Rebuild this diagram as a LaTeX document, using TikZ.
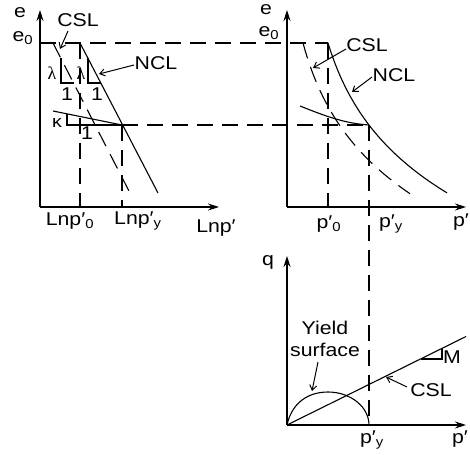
\documentclass[tikz,border=0pt]{standalone}
\usepackage{fontspec}
\setmainfont{Liberation Sans}
\newfontfamily\greekf{Liberation Serif}
\usetikzlibrary{arrows.meta}
\begin{document}
\begin{tikzpicture}[x=1pt,y=-1pt,
  ln/.style={line width=1.1pt},
  dsh/.style={line width=1.1pt, dash pattern=on 16pt off 9pt},
  axis/.style={line width=1.1pt, -{Stealth[length=11pt,width=7pt]}},
  lbl/.style={font=\fontsize{18.5}{21}\selectfont, inner sep=0pt, xscale=1.15, transform shape},
  grk/.style={font=\greekf\fontsize{18}{20}\selectfont, inner sep=0pt},
  ptr/.style={line width=1pt, -{Straight Barb[length=5pt,width=7pt]}}]
\useasboundingbox (0,0) rectangle (470,454);
% ---------- left plot: e - ln p'
\coordinate (O1) at (40,207);
\coordinate (Y1) at (40,10);
\coordinate (X1) at (219,207);
\draw[axis] (O1) -- (Y1);
\draw[axis] (O1) -- (X1);
\coordinate (T0) at (40,43);
\coordinate (NCLa) at (80,43);
\coordinate (NCLb) at (158,193);
\coordinate (CSLa) at (53,43);
\coordinate (CSLb) at (130,193);
\coordinate (P0a) at (80,207);
\coordinate (Yl) at (122,125);
\coordinate (Yla) at (122,207);
\coordinate (Ka) at (53,111);
\coordinate (Kt) at (67,114);
\coordinate (Kb) at (67,125);
\coordinate (Tend) at (328,43);
\coordinate (Hend) at (369,125);
\draw[dsh] (T0) -- (Tend);
\draw[ln] (NCLa) -- (NCLb);
\draw[dsh] (CSLa) -- (CSLb);
\draw[dsh] (NCLa) -- (P0a);
\draw[dsh] (Yl) -- (Yla);
\draw[dsh] (Yl) -- (Hend);
\draw[ln] (Ka) -- (Yl);
\draw[ln] (Kt) -- (Kb) -- (Yl);
% lambda triangles
\coordinate (L1a) at (61,58);
\coordinate (L1b) at (61,83);
\coordinate (L1c) at (73.5,83);
\coordinate (L2a) at (88,58);
\coordinate (L2b) at (88,83);
\coordinate (L2c) at (101,83);
\draw[ln] (L1a) -- (L1b) -- (L1c);
\draw[ln] (L2a) -- (L2b) -- (L2c);
\node[grk] (lam1) at (52,73) {λ};
\node[grk] (lam2) at (81,73) {λ};
\node[lbl] (one1) at (67,94) {1};
\node[lbl] (one2) at (97,94) {1};
\node[lbl, font=\fontsize{17}{19}\selectfont] (kap) at (57,123) {κ};
\node[lbl] (one3) at (87,133) {1};
\node[lbl] (eL) at (20,13) {e};
\node[lbl] (e0L) at (23,38) {e\textsubscript{0}};
\node[lbl] (cslL) at (78,20) {CSL};
\coordinate (cslLs) at (68,31);
\coordinate (cslLt) at (60,49);
\draw[ptr] (cslLs) -- (cslLt);
\node[lbl] (nclL) at (156,63) {NCL};
\coordinate (nclLs) at (134,65);
\coordinate (nclLt) at (99,74);
\draw[ptr] (nclLs) -- (nclLt);
\node[lbl] (lnp0) at (70,221) {Lnp′\textsubscript{0}};
\node[lbl] (lnpy) at (138,221) {Lnp′\textsubscript{y}};
\node[lbl] (lnp) at (216,228) {Lnp′};
% ---------- right plot: e - p'
\coordinate (O2) at (287,207);
\coordinate (Y2) at (287,10);
\coordinate (X2) at (466,207);
\draw[axis] (O2) -- (Y2);
\draw[axis] (O2) -- (X2);
\coordinate (P0b) at (328,207);
\coordinate (Yr) at (369,125);
\coordinate (Ylow) at (369,425);
\draw[ln] plot[domain=328:447, samples=50] (\x, {43+88.8*ln((\x-301)/27)});
\draw[dsh] plot[domain=303:410, samples=50] (\x, {43+88.8*ln((\x-279)/24)});
\draw[dsh] (Tend) -- (P0b);
\draw[dsh] (Yr) -- (Ylow);
\coordinate (Kr) at (300,106);
\draw[ln] (Kr) .. controls (325,116) and (345,123.5) .. (Yr);
\node[lbl] (eR) at (266,10) {e};
\node[lbl] (e0R) at (269,33) {e\textsubscript{0}};
\node[lbl] (cslR) at (367,45) {CSL};
\coordinate (cslRs) at (346,49);
\coordinate (cslRt) at (313,68);
\draw[ptr] (cslRs) -- (cslRt);
\node[lbl] (nclR) at (394,75) {NCL};
\coordinate (nclRs) at (372,77);
\coordinate (nclRt) at (352,92);
\draw[ptr] (nclRs) -- (nclRt);
\node[lbl] (p0R) at (329,224) {p′\textsubscript{0}};
\node[lbl] (pyR) at (391,224) {p′\textsubscript{y}};
\node[lbl] (pR) at (461,222) {p′};
% ---------- lower plot: q - p'
\coordinate (O3) at (287,425);
\coordinate (Y3) at (287,256);
\coordinate (X3) at (466,425);
\draw[axis] (O3) -- (Y3);
\draw[axis] (O3) -- (X3);
\coordinate (Ytop) at (328,392);
\draw[ln] (O3) .. controls (291,406) and (305,392) .. (Ytop) .. controls (350.6,392) and (369,407) .. (Ylow);
\coordinate (Cend) at (466,336.5);
\draw[ln] (O3) -- (Cend);
\coordinate (Ma) at (420.5,359);
\coordinate (Mb) at (442,359);
\coordinate (Mc) at (442,348.4);
\draw[ln] (Ma) -- (Mb) -- (Mc);
\node[lbl, anchor=west] (M) at (443,357) {M};
\node[lbl] (q) at (268,262) {q};
\node[lbl, align=center] (ys) at (325,339) {Yield\\[1pt]surface};
\coordinate (ysS) at (318,362);
\coordinate (ysT) at (312,391);
\draw[ptr] (ysS) -- (ysT);
\node[lbl] (cslQ) at (431,390) {CSL};
\coordinate (cslQs) at (407,387);
\coordinate (cslQt) at (386,377);
\draw[ptr] (cslQs) -- (cslQt);
\node[lbl] (pyQ) at (372,440) {p′\textsubscript{y}};
\node[lbl] (pQ) at (460,439) {p′};
\end{tikzpicture}
\end{document}
